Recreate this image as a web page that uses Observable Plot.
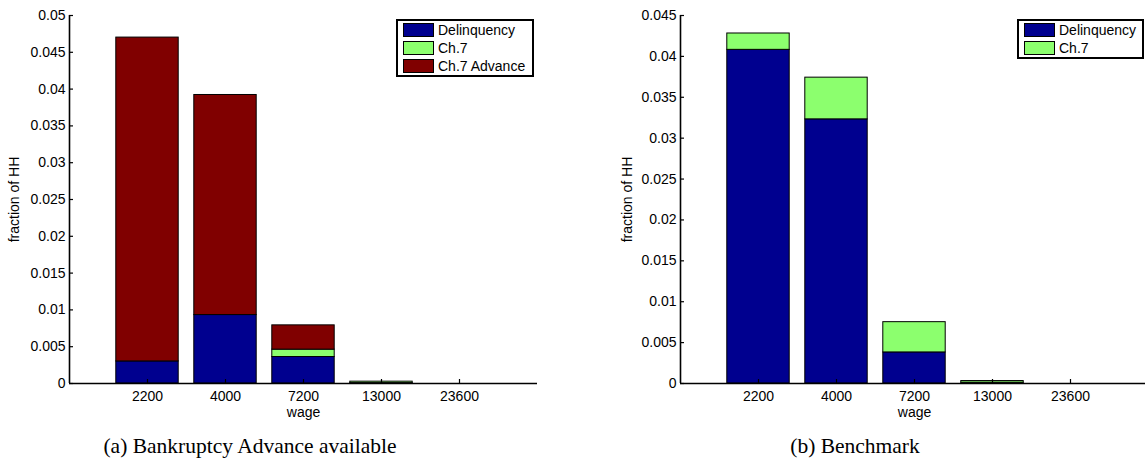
<!DOCTYPE html>
<html><head><meta charset="utf-8">
<script src="https://cdn.jsdelivr.net/npm/d3@7"></script>
<script src="https://cdn.jsdelivr.net/npm/@observablehq/plot@0.6"></script>
<style>
html,body{margin:0;padding:0;background:#fff;}
body{width:1145px;height:472px;overflow:hidden;position:relative;font-family:"Liberation Sans",Arial,sans-serif;}
.panel{position:absolute;top:0;}
.panel svg{max-width:none !important;}
.legend{position:absolute;box-sizing:border-box;border:2px solid #000;background:#fff;font-size:14px;color:#000;}
.sw{position:absolute;box-sizing:border-box;width:31px;height:14px;border:1px solid #000;}
.lt{position:absolute;line-height:14px;white-space:nowrap;}
.caption{position:absolute;top:434px;font-family:"Liberation Serif","DejaVu Serif",serif;font-size:21.5px;color:#000;white-space:nowrap;transform:translateX(-50%);}
</style></head><body>
<script>
// categories
const wages = ["2200", "4000", "7200", "13000", "23600"];
// panel (a): Bankruptcy Advance available
const seriesA = ["Delinquency", "Ch.7", "Ch.7 Advance"];
const delinqA = [0.0030, 0.0093, 0.0036, 0.00005, 0];
const ch7A    = [0.0000, 0.0000, 0.0010, 0.00020, 0];
const advA    = [0.0440, 0.0299, 0.0033, 0.00000, 0];
// panel (b): Benchmark
const seriesB = ["Delinquency", "Ch.7"];
const delinqB = [0.0408, 0.0323, 0.0038, 0.0001, 0];
const ch7B    = [0.0020, 0.0051, 0.0037, 0.0002, 0];
// ticks
const yTicksA = [0, 0.005, 0.01, 0.015, 0.02, 0.025, 0.03, 0.035, 0.04, 0.045, 0.05];
const yLabelsA = ["0", "0.005", "0.01", "0.015", "0.02", "0.025", "0.03", "0.035", "0.04", "0.045", "0.05"];
const yTicksB = [0, 0.005, 0.01, 0.015, 0.02, 0.025, 0.03, 0.035, 0.04, 0.045];
const yLabelsB = ["0", "0.005", "0.01", "0.015", "0.02", "0.025", "0.03", "0.035", "0.04", "0.045"];
const colors = ["#00008f", "#8cff6e", "#800000"];

function stackRows(series, valueLists) {
  const rows = [];
  wages.forEach((w, i) => {
    let base = 0;
    series.forEach((s, k) => {
      const v = valueLists[k][i];
      if (v > 0) rows.push({pos: i + 1, x1: i + 1 - 0.4, x2: i + 1 + 0.4, y1: base, y2: base + v, series: s});
      base += v;
    });
  });
  return rows;
}

function chart({width, marginLeft, marginRight, yMax, yTicks, yLabels, series, rows, labelOffset}) {
  const height = 420, marginTop = 15, marginBottom = 37;
  const ppx = yMax / (height - marginTop - marginBottom);
  const xpx = 6 / (width - marginLeft - marginRight);
  const xPos = wages.map((w, i) => i + 1);
  return Plot.plot({
    width, height, marginLeft, marginRight, marginTop, marginBottom,
    style: {fontFamily: "'Liberation Sans', Arial, sans-serif", fontSize: "14px", color: "#000", background: "transparent", overflow: "visible", maxWidth: "none"},
    x: {domain: [0, 6]},
    y: {domain: [0, yMax]},
    color: {domain: series, range: colors},
    marks: [
      Plot.rect(rows, {x1: "x1", x2: "x2", y1: "y1", y2: "y2", fill: "series", stroke: "#000", strokeWidth: 1}),
      Plot.axisY(yTicks, {tickSize: 0, tickPadding: 4, tickFormat: (d, i) => yLabels[i], label: "fraction of HH", labelAnchor: "center", labelArrow: "none", labelOffset, fontSize: 14}),
      Plot.axisX(xPos, {tickSize: 0, tickPadding: 8, tickFormat: (d, i) => wages[i], label: "wage", labelAnchor: "center", labelArrow: "none", labelOffset: 33, fontSize: 14}),
      Plot.ruleY(yTicks, {x1: 0, x2: 4 * xpx, stroke: "#000", strokeWidth: 1.2}),
      Plot.ruleX(xPos, {y1: 0, y2: 4 * ppx, stroke: "#000", strokeWidth: 1.2}),
      Plot.ruleY([0], {x1: 0, x2: 6, stroke: "#000", strokeWidth: 1.6}),
      Plot.ruleX([0], {y1: 0, y2: yMax, stroke: "#000", strokeWidth: 1.6})
    ]
  });
}

function legend(series, left, width, height) {
  const d = document.createElement("div");
  d.className = "legend";
  d.style.left = left + "px"; d.style.top = "19px";
  d.style.width = width + "px"; d.style.height = height + "px";
  series.forEach((s, i) => {
    const sw = document.createElement("div");
    sw.className = "sw"; sw.style.left = "5px"; sw.style.top = (2 + 18 * i) + "px";
    sw.style.background = colors[i];
    const t = document.createElement("div");
    t.className = "lt"; t.style.left = "40px"; t.style.top = (2 + 18 * i) + "px";
    t.textContent = s;
    d.append(sw, t);
  });
  document.body.append(d);
}

function panel(svg, left, width) {
  const p = document.createElement("div");
  p.className = "panel"; p.style.left = left + "px"; p.style.width = width + "px";
  p.append(svg);
  document.body.append(p);
}

panel(chart({width: 560, marginLeft: 69, marginRight: 23, yMax: 0.05, yTicks: yTicksA, yLabels: yLabelsA,
  series: seriesA, rows: stackRows(seriesA, [delinqA, ch7A, advA]), labelOffset: 60}), 0, 560);
panel(chart({width: 580, marginLeft: 100, marginRight: 12, yMax: 0.045, yTicks: yTicksB, yLabels: yLabelsB,
  series: seriesB, rows: stackRows(seriesB, [delinqB, ch7B]), labelOffset: 58}), 580, 580);

legend(seriesA, 396, 138, 58);
legend(seriesB, 1017, 127, 40);

const capA = document.createElement("div");
capA.className = "caption"; capA.style.left = "250px"; capA.textContent = "(a) Bankruptcy Advance available";
const capB = document.createElement("div");
capB.className = "caption"; capB.style.left = "855px"; capB.textContent = "(b) Benchmark";
document.body.append(capA, capB);
</script>
</body></html>
